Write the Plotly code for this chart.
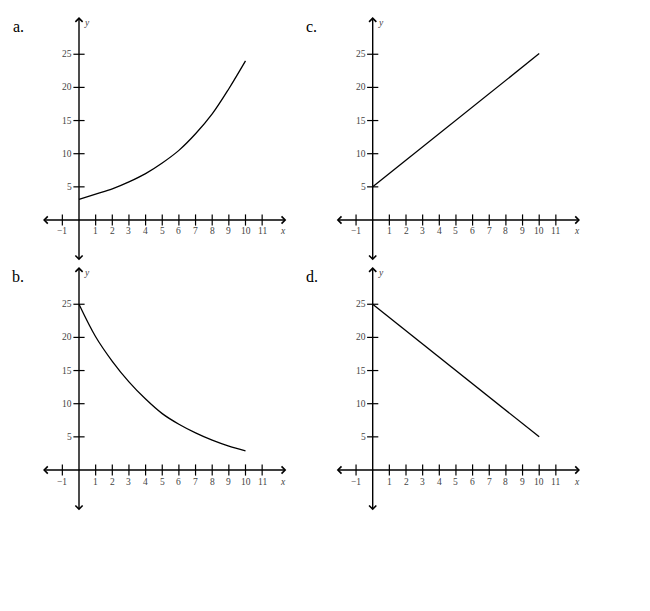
import plotly.graph_objects as go

# ---------------- data ----------------
x_pts = [0, 1, 2, 3, 4, 5, 6, 7, 8, 9, 10]
a_vals = [3.1, 3.9, 4.7, 5.75, 7.0, 8.6, 10.5, 13.0, 16.0, 19.8, 24.0]
b_vals = [25.0, 20.1, 16.4, 13.3, 10.7, 8.5, 6.9, 5.6, 4.5, 3.6, 2.9]
line_x = [0, 10]
c_vals = [5.0, 25.1]
d_vals = [25.0, 5.0]
x_ticks = [-1, 1, 2, 3, 4, 5, 6, 7, 8, 9, 10, 11]
x_tick_labels = ["−1", "1", "2", "3", "4", "5", "6", "7", "8", "9", "10", "11"]
y_ticks = [5, 10, 15, 20, 25]
y_tick_labels = ["5", "10", "15", "20", "25"]
panel_names = ["a.", "b.", "c.", "d."]

# ---------------- layout geometry ----------------
PAGE_MARGIN = 8                  # default body margin of the html page
W, H = 650 - 2 * PAGE_MARGIN, 611 - 2 * PAGE_MARGIN
SX, SY = 16.65, 6.63            # px per unit
XR = [-2.4, 12.6]
YR = [-6.6, 31.0]
origins_page = [(79.0, 220.0), (79.0, 470.0), (372.7, 220.0), (372.7, 470.0)]
origins = [(ox - PAGE_MARGIN, oy - PAGE_MARGIN) for ox, oy in origins_page]
FONT = "Liberation Serif, Times New Roman, serif"
TICK_FONT = dict(family=FONT, size=9.5, color="#444")

fig = go.Figure()
layout = dict(width=W, height=H, margin=dict(l=0, r=0, t=0, b=0),
              paper_bgcolor="white", plot_bgcolor="white",
              showlegend=False, hovermode=False)
annotations = []

series = [(x_pts, a_vals), (x_pts, b_vals), (line_x, c_vals), (line_x, d_vals)]

for i, (ox, oy) in enumerate(origins):
    n = i + 1
    xa = "xaxis" if n == 1 else f"xaxis{n}"
    ya = "yaxis" if n == 1 else f"yaxis{n}"
    xr = "x" if n == 1 else f"x{n}"
    yr = "y" if n == 1 else f"y{n}"
    x0 = (ox + XR[0] * SX) / W
    x1 = (ox + XR[1] * SX) / W
    ytop = 1 - (oy - YR[1] * SY) / H
    ybot = 1 - (oy - YR[0] * SY) / H
    layout[xa] = dict(domain=[x0, x1], range=XR, visible=False, anchor=yr)
    layout[ya] = dict(domain=[ybot, ytop], range=YR, visible=False, anchor=xr)

    # curve
    xs, ys = series[i]
    fig.add_trace(go.Scatter(x=xs, y=ys, mode="lines", xaxis=xr, yaxis=yr,
                             line=dict(color="black", width=1.3,
                                       shape="spline" if i < 2 else "linear"),
                             cliponaxis=False))
    # tick marks
    fig.add_trace(go.Scatter(x=x_ticks, y=[0] * len(x_ticks), mode="markers",
                             xaxis=xr, yaxis=yr, cliponaxis=False,
                             marker=dict(symbol="line-ns", size=8,
                                         line=dict(color="black", width=1.2))))
    fig.add_trace(go.Scatter(x=[0] * len(y_ticks), y=y_ticks, mode="markers",
                             xaxis=xr, yaxis=yr, cliponaxis=False,
                             marker=dict(symbol="line-ew", size=8,
                                         line=dict(color="black", width=1.2))))
    # axes with arrows
    annotations.append(dict(x=12.45, y=0, ax=-2.25, ay=0, xref=xr, yref=yr,
                            axref=xr, ayref=yr, showarrow=True, text="",
                            arrowside="end+start", arrowhead=4, startarrowhead=4,
                            arrowwidth=1.4, arrowsize=1, startarrowsize=1,
                            arrowcolor="black"))
    annotations.append(dict(x=0, y=30.6, ax=0, ay=-6.3, xref=xr, yref=yr,
                            axref=xr, ayref=yr, showarrow=True, text="",
                            arrowside="end+start", arrowhead=4, startarrowhead=4,
                            arrowwidth=1.4, arrowsize=1, startarrowsize=1,
                            arrowcolor="black"))
    # tick labels
    for t, lab in zip(x_ticks, x_tick_labels):
        annotations.append(dict(x=t, y=0, xref=xr, yref=yr, text=lab,
                                showarrow=False, yshift=-11.5, xanchor="center",
                                yanchor="middle", font=TICK_FONT))
    for t, lab in zip(y_ticks, y_tick_labels):
        annotations.append(dict(x=0, y=t, xref=xr, yref=yr, text=lab,
                                showarrow=False, xshift=-5, xanchor="right",
                                yanchor="middle", font=TICK_FONT))
    # axis names
    annotations.append(dict(x=12.25, y=0, xref=xr, yref=yr, text="<i>x</i>",
                            showarrow=False, yshift=-11.5, xanchor="center",
                            yanchor="middle", font=TICK_FONT))
    annotations.append(dict(x=0, y=29.7, xref=xr, yref=yr, text="<i>y</i>",
                            showarrow=False, xshift=8, xanchor="center",
                            yanchor="middle", font=TICK_FONT))
    # panel name
    annotations.append(dict(x=(ox - 61) / W, y=1 - (oy - 194) / H,
                            xref="paper", yref="paper", text=panel_names[i],
                            showarrow=False, xanchor="center", yanchor="middle",
                            font=dict(family=FONT, size=16, color="black")))

layout["annotations"] = annotations
fig.update_layout(**layout)
fig.write_html("out.html")
